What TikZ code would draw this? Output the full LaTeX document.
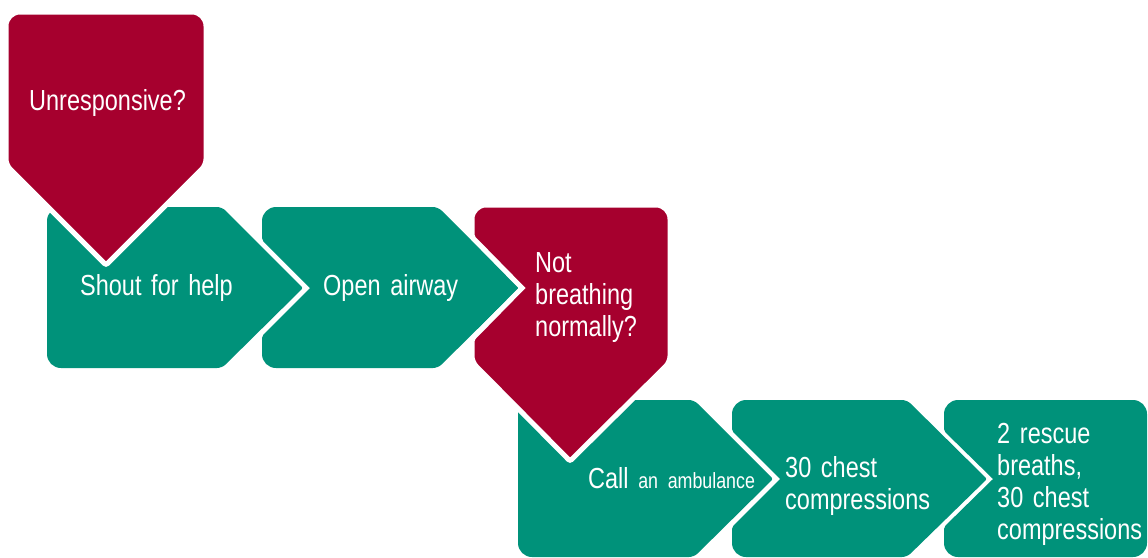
\documentclass[tikz,border=0pt]{standalone}
\usepackage{fontspec}
\setmainfont{Liberation Sans}[FakeStretch=0.81]
\definecolor{cprred}{RGB}{166,0,46}
\definecolor{cprteal}{RGB}{0,146,122}
\begin{document}
\begin{tikzpicture}[x=1pt,y=-1pt,
  greenbox/.style={fill=cprteal},
  redbox/.style={fill=cprred,draw=white,line width=5pt,line join=miter},
  lbl/.style={text=white,anchor=base west,inner sep=0pt,align=left,text width=200pt,
    font=\fontsize{29}{32}\selectfont}]
\useasboundingbox (0,0) rectangle (1148,557);

% green 1: Shout for help
\fill[greenbox,rounded corners=14pt] (47,207) [rounded corners=5pt]-- (222,207) [rounded corners=2pt]-- (303,288) [rounded corners=5pt]-- (222,368) [rounded corners=14pt]-- (47,368) -- cycle;
% green 2: Open airway
\fill[greenbox,rounded corners=14pt] (262,207) [rounded corners=5pt]-- (438,207) [rounded corners=2pt]-- (519,288) [rounded corners=5pt]-- (438,368) [rounded corners=14pt]-- (262,368) [rounded corners=2pt]-- (262,336) [sharp corners]-- (310,288) [rounded corners=2pt]-- (262,240) [rounded corners=14pt]-- cycle;
% red 1: Unresponsive
\filldraw[redbox,rounded corners=14pt] (6,12) -- (206,12) [rounded corners=6pt]-- (206,165) [rounded corners=2pt]-- (106,265) [rounded corners=6pt]-- (6,165) [rounded corners=14pt]-- cycle;
% green 3: Call an ambulance
\fill[greenbox,rounded corners=14pt] (518,400) [rounded corners=5pt]-- (694,400) [rounded corners=2pt]-- (773,479) [rounded corners=5pt]-- (694,557) [rounded corners=14pt]-- (518,557) -- cycle;
% red 2: Not breathing normally
\filldraw[redbox,rounded corners=14pt] (472,205) -- (670,205) [rounded corners=6pt]-- (670,362) [rounded corners=2pt]-- (570,461) [rounded corners=6pt]-- (472,362) [rounded corners=2pt]-- (472,339) [sharp corners]-- (522,288) [rounded corners=2pt]-- (472,237) [rounded corners=14pt]-- cycle;
% green 4: 30 chest compressions
\fill[greenbox,rounded corners=14pt] (732,400) [rounded corners=5pt]-- (907,400) [rounded corners=2pt]-- (987,479) [rounded corners=5pt]-- (907,557) [rounded corners=14pt]-- (732,557) [rounded corners=2pt]-- (732,527) [sharp corners]-- (780,479) [rounded corners=2pt]-- (732,431) [rounded corners=14pt]-- cycle;
% green 5: rescue breaths
\fill[greenbox,rounded corners=14pt] (944,400) -- (1147,400) -- (1147,557) -- (944,557) [rounded corners=2pt]-- (944,527) [sharp corners]-- (993,479) [rounded corners=2pt]-- (944,431) [rounded corners=14pt]-- cycle;

\node[lbl] (unresp) at (29,110) {Unresponsive?};
\node[lbl] (shout) at (80,295) {Shout for help};
\node[lbl] (airway) at (323,295) {Open airway};
\node[lbl] (breath) at (535,272) {Not\\breathing\\normally?};
\node[lbl] (call) at (588,488) {Call {\fontsize{22}{26}\selectfont an ambulance}};
\node[lbl] (chest) at (785,477) {30 chest\\compressions};
\node[lbl] (rescue) at (997,443) {2 rescue\\breaths,\\30 chest\\compressions};
\end{tikzpicture}
\end{document}
